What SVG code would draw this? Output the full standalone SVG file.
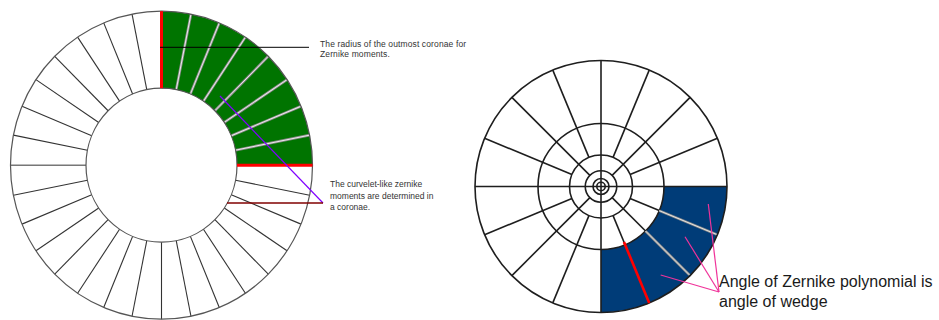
<svg xmlns="http://www.w3.org/2000/svg" width="939" height="320" viewBox="0 0 939 320">
<style>
.ls{stroke:#333;stroke-width:1.1;fill:none}
.lc{stroke:#555;stroke-width:1.2;fill:none}
.rs{stroke:#1e1e1e;stroke-width:1.6;fill:none}
.gd{stroke:#8a8a8a;stroke-width:2.6}
.gw{stroke:#eee;stroke-width:0.9}
.red{stroke:#f00;fill:none}
.sm{font-family:"Liberation Sans",Arial,sans-serif;font-size:8.5px;fill:#333}
.big{font-family:"Liberation Sans",Arial,sans-serif;font-size:16px;fill:#1a1a1a}
</style>
<rect width="939" height="320" fill="#fff"/>

<g id="left-ring" transform="translate(161.5,165.2) scale(1,1.02)">
  <path d="M0,-151 A151,151 0 0 1 151,0 L75.5,0 A75.5,75.5 0 0 0 0,-75.5 Z" fill="#007400"/>
  <g class="ls">
    <line x1="75.5" x2="151" transform="rotate(11.25)"/>
    <line x1="75.5" x2="151" transform="rotate(22.5)"/>
    <line x1="75.5" x2="151" transform="rotate(33.75)"/>
    <line x1="75.5" x2="151" transform="rotate(45)"/>
    <line x1="75.5" x2="151" transform="rotate(56.25)"/>
    <line x1="75.5" x2="151" transform="rotate(67.5)"/>
    <line x1="75.5" x2="151" transform="rotate(78.75)"/>
    <line x1="75.5" x2="151" transform="rotate(90)"/>
    <line x1="75.5" x2="151" transform="rotate(101.25)"/>
    <line x1="75.5" x2="151" transform="rotate(112.5)"/>
    <line x1="75.5" x2="151" transform="rotate(123.75)"/>
    <line x1="75.5" x2="151" transform="rotate(135)"/>
    <line x1="75.5" x2="151" transform="rotate(146.25)"/>
    <line x1="75.5" x2="151" transform="rotate(157.5)"/>
    <line x1="75.5" x2="151" transform="rotate(168.75)"/>
    <line x1="75.5" x2="151" transform="rotate(180)" stroke="#777" stroke-width="1.6"/>
    <line x1="75.5" x2="151" transform="rotate(191.25)"/>
    <line x1="75.5" x2="151" transform="rotate(202.5)"/>
    <line x1="75.5" x2="151" transform="rotate(213.75)"/>
    <line x1="75.5" x2="151" transform="rotate(225)"/>
    <line x1="75.5" x2="151" transform="rotate(236.25)"/>
    <line x1="75.5" x2="151" transform="rotate(247.5)"/>
    <line x1="75.5" x2="151" transform="rotate(258.75)"/>
  </g>
  <g>
    <line class="gd" x1="75.5" x2="151" transform="rotate(281.25)"/>
    <line class="gd" x1="75.5" x2="151" transform="rotate(292.5)"/>
    <line class="gd" x1="75.5" x2="151" transform="rotate(303.75)"/>
    <line class="gd" x1="75.5" x2="151" transform="rotate(315)"/>
    <line class="gd" x1="75.5" x2="151" transform="rotate(326.25)"/>
    <line class="gd" x1="75.5" x2="151" transform="rotate(337.5)"/>
    <line class="gd" x1="75.5" x2="151" transform="rotate(348.75)"/>
    <line class="gw" x1="75.5" x2="151" transform="rotate(281.25)"/>
    <line class="gw" x1="75.5" x2="151" transform="rotate(292.5)"/>
    <line class="gw" x1="75.5" x2="151" transform="rotate(303.75)"/>
    <line class="gw" x1="75.5" x2="151" transform="rotate(315)"/>
    <line class="gw" x1="75.5" x2="151" transform="rotate(326.25)"/>
    <line class="gw" x1="75.5" x2="151" transform="rotate(337.5)"/>
    <line class="gw" x1="75.5" x2="151" transform="rotate(348.75)"/>
  </g>
  <circle class="lc" r="151"/>
  <circle class="lc" r="75.5"/>
  <line class="red" x1="0" y1="-75.5" x2="0" y2="-151" stroke-width="3"/>
  <line class="red" x1="75.5" y1="0" x2="151" y2="0" stroke-width="3"/>
</g>

<g id="right-disc" transform="translate(601,186.5)">
  <path d="M126,0 A126,126 0 0 1 0,126 L0,63 A63,63 0 0 0 63,0 Z" fill="#003c78"/>
  <g class="rs">
    <circle r="126"/>
    <circle r="63"/>
    <circle r="31.5"/>
    <circle r="15.75"/>
    <circle r="8"/>
    <circle r="4.2"/>
    <line x1="-126" x2="126"/>
    <line y1="-126" y2="126"/>
    <line x1="31.5" x2="63" transform="rotate(22.5)"/>
    <line x1="15.75" x2="63" transform="rotate(45)"/>
    <line x1="31.5" x2="63" transform="rotate(67.5)"/>
    <line x1="31.5" x2="126" transform="rotate(112.5)"/>
    <line x1="15.75" x2="126" transform="rotate(135)"/>
    <line x1="31.5" x2="126" transform="rotate(157.5)"/>
    <line x1="31.5" x2="126" transform="rotate(202.5)"/>
    <line x1="15.75" x2="126" transform="rotate(225)"/>
    <line x1="31.5" x2="126" transform="rotate(247.5)"/>
    <line x1="31.5" x2="126" transform="rotate(292.5)"/>
    <line x1="15.75" x2="126" transform="rotate(315)"/>
    <line x1="31.5" x2="126" transform="rotate(337.5)"/>
  </g>
  <line class="gd" x1="63" x2="125" transform="rotate(22.5)"/>
  <line class="gd" x1="63" x2="125" transform="rotate(45)"/>
  <line class="gw" x1="63" x2="125" transform="rotate(22.5)"/>
  <line class="gw" x1="63" x2="125" transform="rotate(45)"/>
  <line class="red" x1="60" x2="126" transform="rotate(67.5)" stroke-width="2.6"/>
</g>

<g id="label-radius">
  <text class="sm" x="320" y="46.5" letter-spacing="0.12">The radius of the outmost coronae for</text>
  <text class="sm" x="320" y="57.3" letter-spacing="0.12">Zernike moments.</text>
</g>
<g id="label-curvelet">
  <text class="sm" x="330" y="187.3">The curvelet-like zernike</text>
  <text class="sm" x="330" y="198.6">moments are determined in</text>
  <text class="sm" x="330" y="209.8">a coronae.</text>
</g>
<g id="label-angle">
  <text class="big" x="719" y="286.5">Angle of Zernike polynomial is</text>
  <text class="big" x="719" y="307">angle of wedge</text>
</g>

<g id="connectors" fill="none">
  <line x1="160" y1="47.3" x2="309" y2="47.3" stroke="#000" stroke-width="1"/>
  <line x1="220" y1="96" x2="323" y2="203" stroke="#8000ff" stroke-width="1.2"/>
  <line x1="227" y1="203" x2="323" y2="203" stroke="#800000" stroke-width="1.6"/>
  <g stroke="#f0339a" stroke-width="1.2">
    <line x1="719" y1="292" x2="708.3" y2="204"/>
    <line x1="719" y1="292" x2="685" y2="236.7"/>
    <line x1="719" y1="292" x2="660.7" y2="275"/>
  </g>
</g>
</svg>
